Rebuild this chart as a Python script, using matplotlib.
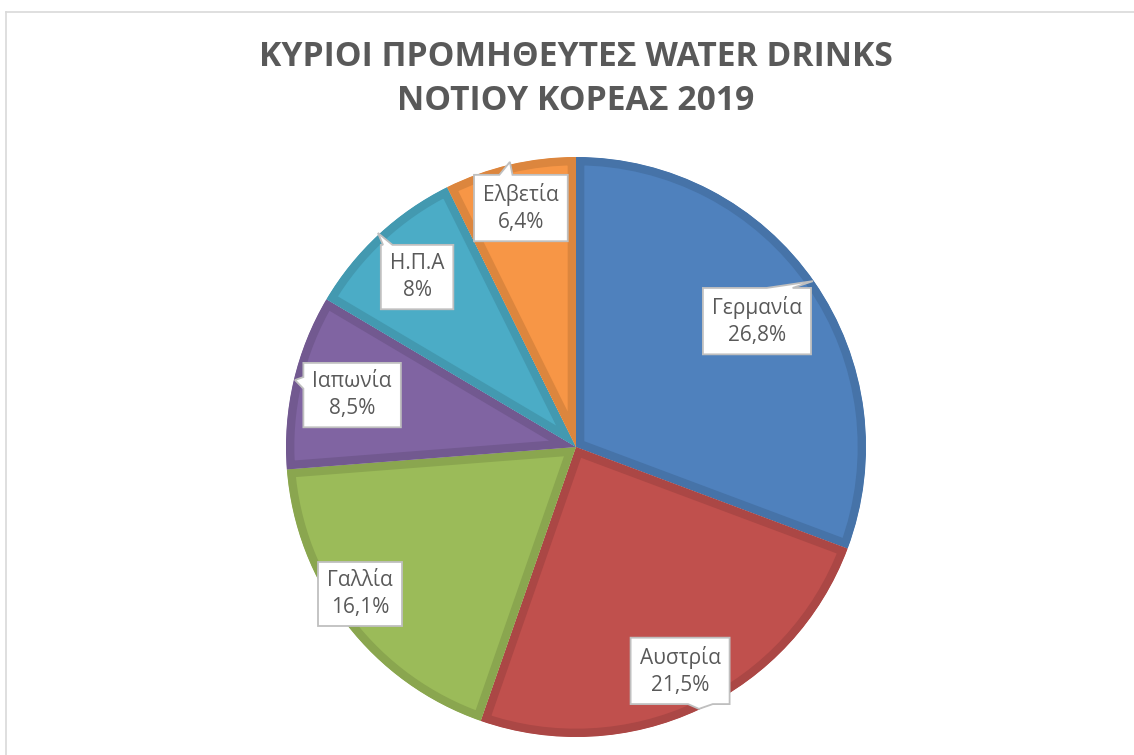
import matplotlib.pyplot as plt
import matplotlib.colors as mcolors
from matplotlib.patches import Polygon
from matplotlib.lines import Line2D
import numpy as np

countries = ['Γερμανία', 'Αυστρία', 'Γαλλία', 'Ιαπωνία', 'Η.Π.Α', 'Ελβετία']
shares = [26.8, 21.5, 16.1, 8.5, 8, 6.4]
pct_labels = ['26,8%', '21,5%', '16,1%', '8,5%', '8%', '6,4%']
colors = ['#4F81BD', '#C0504D', '#9BBB59', '#8064A2', '#4BACC6', '#F79646']
title = 'ΚΥΡΙΟΙ ΠΡΟΜΗΘΕΥΤΕΣ WATER DRINKS\nΝΟΤΙΟΥ ΚΟΡΕΑΣ 2019'

# label layout in pie-radius units from the centre (labels were dragged by hand in excel)
label_pos = [(0.624, 0.434), (0.359, -0.772), (-0.745, -0.507),
             (-0.772, 0.179), (-0.548, 0.586), (-0.190, 0.824)]
# callout pointer: side of box, base span along that side (0-1), tip in radius units
pointers = [('top', 0.59, 0.83, (0.817, 0.572)),
            ('bottom', 0.58, 0.83, (0.424, -0.903)),
            None,
            ('left', 0.60, 0.78, (-0.969, 0.231)),
            ('top', 0.03, 0.16, (-0.683, 0.738)),
            ('top', 0.27, 0.41, (-0.228, 0.983))]

W, H, dpi = 1134, 755, 100
R = 290          # pie radius, px
cx, cy = 576, 447  # pie centre, px from top-left
txt_col = '#595959'
fam = ['Open Sans', 'DejaVu Sans']

fig = plt.figure(figsize=(W / dpi, H / dpi), dpi=dpi)
ax = fig.add_axes([0, 0, 1, 1])

wedges, _ = ax.pie(shares, colors=colors, startangle=90, counterclock=False,
                   radius=1, center=(0, 0))
ax.set_xlim(-cx / R, (W - cx) / R)
ax.set_ylim(-(H - cy) / R, cy / R)
ax.set_aspect('auto')
ax.axis('off')

# excel style darker border, kept inside each slice
for w, c in zip(wedges, colors):
    dark = np.array(mcolors.to_rgb(c)) * 0.89
    w.set_edgecolor(dark)
    w.set_linewidth(12)
    w.set_joinstyle('miter')
    w.set_clip_on(True)
    w.set_clip_path(w)

texts = []
for i in range(len(countries)):
    x, y = label_pos[i]
    t = ax.text(x, y, countries[i] + '\n' + pct_labels[i], ha='center', va='center',
                fontsize=15, color=txt_col, linespacing=1.4, family=fam, zorder=6)
    texts.append(t)

fig.canvas.draw()
rend = fig.canvas.get_renderer()
padx, pady = 9, 8
for t, p in zip(texts, pointers):
    bb = t.get_window_extent(rend)
    x0, x1 = bb.x0 - padx, bb.x1 + padx
    y0, y1 = bb.y0 - pady, bb.y1 + pady
    bw, bh = x1 - x0, y1 - y0
    side = tip = None
    if p is not None:
        side, f0, f1, tip_d = p
        tip = tuple(ax.transData.transform(tip_d))
    v = [(x0, y1)]
    if side == 'top':
        v += [(x0 + f0 * bw, y1), tip, (x0 + f1 * bw, y1)]
    v += [(x1, y1), (x1, y0)]
    if side == 'bottom':
        v += [(x0 + f1 * bw, y0), tip, (x0 + f0 * bw, y0)]
    v += [(x0, y0)]
    if side == 'left':
        v += [(x0, y0 + f0 * bh), tip, (x0, y0 + f1 * bh)]
    v = ax.transData.inverted().transform(np.array(v))
    ax.add_patch(Polygon(v, closed=True, facecolor='white', edgecolor='#BFBFBF',
                         lw=1.3, zorder=5))

fig.text(cx / W, 1 - 79 / H, title, ha='center', va='center', fontsize=24.2,
         fontweight='bold', color=txt_col, linespacing=1.4, family=fam)

# chart area frame (only top and left edge fall inside the crop)
frame_col = '#D9D9D9'
fig.add_artist(Line2D([6 / W, 1], [1 - 12 / H, 1 - 12 / H], transform=fig.transFigure,
                      color=frame_col, lw=1.2))
fig.add_artist(Line2D([6 / W, 6 / W], [0, 1 - 12 / H], transform=fig.transFigure,
                      color=frame_col, lw=1.2))

fig.savefig('out.png', dpi=dpi)
